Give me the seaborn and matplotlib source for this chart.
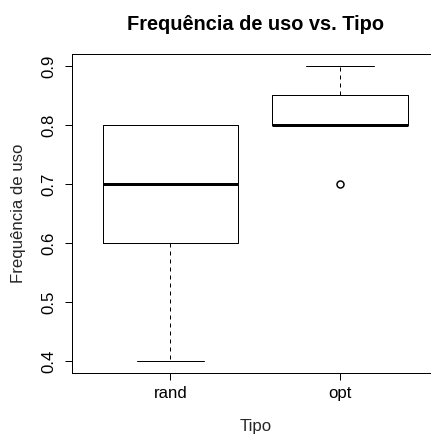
import pandas as pd
import matplotlib
matplotlib.use('Agg')
import matplotlib.pyplot as plt
import seaborn as sns

# Data
tipo_order = ['rand', 'opt']
rand_vals = [0.4, 0.6, 0.7, 0.8, 0.8]
opt_vals = [0.7, 0.8, 0.8, 0.85, 0.9]
y_ticks = [0.4, 0.5, 0.6, 0.7, 0.8, 0.9]

df = pd.DataFrame({
    'Tipo': ['rand'] * len(rand_vals) + ['opt'] * len(opt_vals),
    'Freq': rand_vals + opt_vals,
})

sns.set_style('white')
plt.rcParams['font.family'] = ['Liberation Sans', 'DejaVu Sans']
plt.rcParams['text.color'] = 'black'

W, H = 431, 435
fig = plt.figure(figsize=(W / 72, H / 72), dpi=72)
ax = fig.add_axes([72 / W, (H - 373) / H, (438.7 - 72) / W, (373 - 54) / H])

sns.boxplot(data=df, x='Tipo', y='Freq', order=tipo_order, ax=ax,
            width=0.8, whis=1.5, fill=False, color='black', linewidth=1,
            whiskerprops=dict(linestyle=(0, (4, 4)), linewidth=1),
            medianprops=dict(linewidth=3, solid_capstyle='butt'),
            flierprops=dict(marker='o', markersize=7, markerfacecolor='none',
                            markeredgecolor='black', markeredgewidth=1.5))

ax.set_xlim(-0.58, 1.58)
ax.set_ylim(0.38, 0.92)
ax.set_yticks(y_ticks)
ax.set_yticklabels([f'{v:.1f}' for v in y_ticks])

for s in ax.spines.values():
    s.set_color('black')
    s.set_linewidth(1)

ax.tick_params(axis='both', direction='out', length=7, width=1, colors='black',
               labelsize=16.7, left=True, bottom=True)
ax.tick_params(axis='y', labelrotation=90, pad=9)
ax.tick_params(axis='x', pad=6)
for lbl in ax.get_yticklabels():
    lbl.set_va('center')

ax.set_title('Frequência de uso vs. Tipo', fontsize=20, fontweight='bold', pad=24)
ax.set_xlabel('Tipo', fontsize=16.7, va='center')
ax.set_ylabel('Frequência de uso', fontsize=16.7, va='center')
ax.xaxis.set_label_coords(0.5, (373 - 427) / (373 - 54))
ax.yaxis.set_label_coords((19 - 72) / (438.7 - 72), 0.5)

fig.savefig('out.png', dpi=72, facecolor='white')
